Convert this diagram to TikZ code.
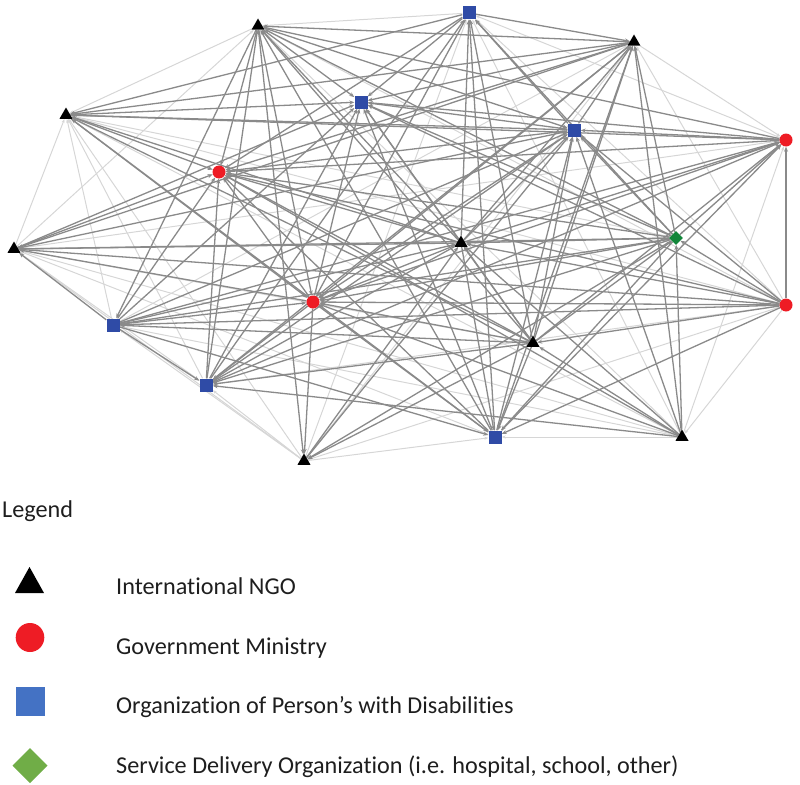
\documentclass[tikz,border=0pt]{standalone}
\usepackage{fontspec}
\setmainfont[Ligatures={NoCommon}]{Carlito}
\usetikzlibrary{shapes.geometric,arrows.meta}
\pgfdeclarelayer{bg}
\pgfsetlayers{bg,main}
\definecolor{edgedk}{HTML}{8A8A8A}
\definecolor{edgelt}{HTML}{D6D6D6}
\definecolor{ngblue}{HTML}{2F4BA6}
\definecolor{ngred}{HTML}{EE1C25}
\definecolor{nggreen}{HTML}{12863A}
\definecolor{lgblue}{HTML}{4472C4}
\definecolor{lggreen}{HTML}{70AD47}
\definecolor{lgtxt}{HTML}{1E1E1E}
\tikzset{
  ngo/.style={regular polygon,regular polygon sides=3,fill=black,inner sep=0pt,minimum size=15pt},
  gov/.style={circle,fill=ngred,inner sep=0pt,minimum size=13pt},
  opd/.style={rectangle,fill=ngblue,inner sep=0pt,minimum size=13pt},
  sdo/.style={diamond,fill=nggreen,inner sep=0pt,minimum size=14pt},
  dk/.style={draw=edgedk,line width=1.3pt,-{Stealth[length=5pt,width=4pt]}},
  lt/.style={draw=edgelt,line width=1pt,-{Stealth[length=4pt,width=3pt]}},
  lgtext/.style={anchor=base west,inner sep=0pt,text=lgtxt,font=\fontsize{24.2}{29}\selectfont}
}
\begin{document}
\begin{tikzpicture}[x=1pt,y=-1pt]
\useasboundingbox (0,0) rectangle (800,784);
% nodes
\node[ngo] (A) at (258,26) {};
\node[opd] (B) at (469,13) {};
\node[ngo] (C) at (634,42) {};
\node[ngo] (D) at (66,115) {};
\node[opd] (E) at (361,102) {};
\node[opd] (F) at (574,130) {};
\node[gov] (G) at (786,140) {};
\node[gov] (H) at (219,172) {};
\node[ngo] (I) at (14,249) {};
\node[ngo] (J) at (461,243) {};
\node[sdo] (K) at (676,238) {};
\node[gov] (L) at (313,302) {};
\node[gov] (M) at (786,305) {};
\node[opd] (N) at (113,325) {};
\node[ngo] (O) at (533,343) {};
\node[opd] (P) at (206,385) {};
\node[opd] (Q) at (495,437) {};
\node[ngo] (R) at (682,437) {};
\node[ngo] (S) at (304,461) {};
\begin{pgfonlayer}{bg}
\foreach \s/\t in {B/A,A/D,I/A,R/A,M/A,S/B,G/B,M/B,C/G,I/D,N/D,P/D,M/D,S/D,P/I,S/I,Q/I,G/I,S/N,S/P,S/Q,R/Q,M/R,R/G,M/S,G/K,R/N,R/D,R/I,M/C,S/C,M/P,R/B,I/O,D/K,N/C}
  \draw[lt] (\s) -- (\t);
\foreach \s/\t in {C/A,A/E,A/F,G/A,A/H,J/A,K/A,A/L,O/A,A/N,P/A,A/S,Q/A,
  B/C,B/E,F/B,B/H,B/D,J/B,B/L,O/B,P/B,Q/B,K/B,
  F/C,C/E,C/H,C/D,J/C,K/C,C/L,O/C,C/P,C/Q,R/C,C/I,
  D/E,F/D,G/D,D/H,J/D,D/L,O/D,Q/D,
  F/E,G/E,J/E,K/E,L/E,O/E,P/E,Q/E,N/E,I/E,M/E,
  G/F,F/H,J/F,K/F,F/L,O/F,P/F,Q/F,M/F,N/F,I/F,S/F,R/F,
  G/H,J/G,K/G,G/L,O/G,P/G,Q/G,M/G,N/G,
  J/H,K/H,L/H,O/H,P/H,Q/H,M/H,N/H,I/H,R/H,
  J/I,K/I,L/I,N/I,M/I,
  K/J,J/L,M/J,N/J,O/J,J/P,J/Q,R/J,S/J,
  K/L,M/K,O/K,K/P,K/Q,R/K,K/N,K/S,
  M/L,N/L,O/L,L/P,L/Q,R/L,L/S,
  M/N,M/O,M/Q,O/N,N/P,N/Q,
  O/P,O/Q,R/O,O/S,R/P}
  \draw[dk] (\s) -- (\t);
\end{pgfonlayer}
% legend
\node[lgtext] (lg) at (2,517) {Legend};
\fill[black] (15,593) -- (44,593) -- (29.5,567) -- cycle;
\node[lgtext] (l1) at (116,594) {International NGO};
\fill[ngred] (30,637.5) ellipse [x radius=14.3,y radius=14.5];
\node[lgtext] (l2) at (116,654) {Government Ministry};
\fill[lgblue] (15.5,687) rectangle (45,716);
\node[lgtext] (l3) at (116,713) {Organization of Person’s with Disabilities};
\fill[lggreen] (30,748) -- (47.5,765.5) -- (30,783) -- (12.5,765.5) -- cycle;
\node[lgtext] (l4) at (116,773) {Service Delivery Organization (i.e. hospital, school, other)};
\end{tikzpicture}
\end{document}
